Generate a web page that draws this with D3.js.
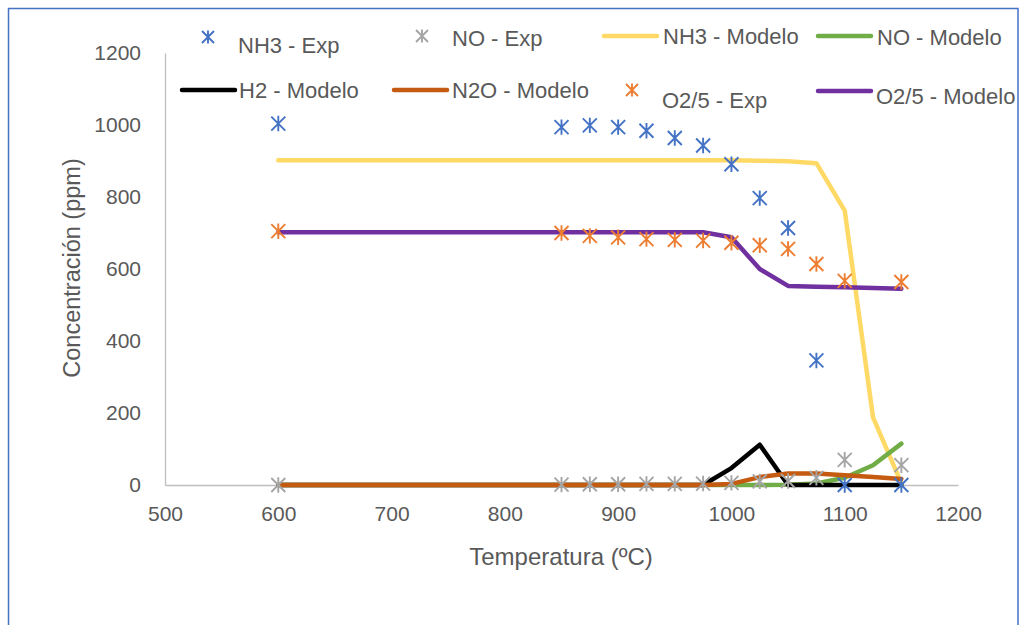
<!DOCTYPE html>
<html>
<head>
<meta charset="utf-8">
<script src="https://cdn.jsdelivr.net/npm/d3@7"></script>
<style>
  html, body { margin: 0; padding: 0; background: #ffffff; }
  svg { display: block; }
  text { font-family: "Liberation Sans", Arial, sans-serif; fill: #595959; }
</style>
</head>
<body>
<svg id="chart" width="1020" height="625"></svg>
<script>
// ---- Data ----
const expTemps   = [600, 850, 875, 900, 925, 950, 975, 1000, 1025, 1050, 1075, 1100, 1150];
const nh3Exp     = [1004, 994, 999, 994, 984, 964, 943, 891, 797, 714, 346, 0, 0];
const noExp      = [0, 1, 2, 2, 3, 3, 4, 6, 10, 11, 20, 70, 55];
const o2Exp      = [705, 700, 692, 688, 683, 681, 679, 673, 666, 656, 614, 567, 564];

const modelTemps = [600, 850, 875, 900, 925, 950, 975, 1000, 1025, 1050, 1075, 1100, 1125, 1150];
const nh3Model   = [902, 902, 902, 902, 902, 902, 902, 902, 901, 899, 894, 762, 188, 5];
const noModel    = [0, 0, 0, 0, 0, 0, 0, 0, 0, 1, 4, 20, 55, 115];
const h2Model    = [0, 0, 0, 0, 0, 0, 0, 47, 112, 0, 0, 0, 0, 0];
const n2oModel   = [0, 0, 0, 0, 0, 0, 0, 3, 22, 32, 32, 27, 22, 17];
const o2Model    = [702, 702, 702, 702, 702, 702, 702, 688, 600, 553, 551, 549, 547, 545];

const xTicks = [500, 600, 700, 800, 900, 1000, 1100, 1200];
const yTicks = [0, 200, 400, 600, 800, 1000, 1200];

const xTitle = "Temperatura (ºC)";
const yTitle = "Concentración (ppm)";

// ---- Series definitions ----
const lineSeries = [
  { name: "NH3 - Modelo", values: nh3Model, color: "#ffd966" },
  { name: "NO - Modelo",  values: noModel,  color: "#70ad47" },
  { name: "H2 - Modelo",  values: h2Model,  color: "#000000" },
  { name: "N2O - Modelo", values: n2oModel, color: "#c55a11" },
  { name: "O2/5 - Modelo",values: o2Model,  color: "#7030a0" }
];
const markerSeries = [
  { name: "NH3 - Exp",  values: nh3Exp, color: "#4472c4" },
  { name: "NO - Exp",   values: noExp,  color: "#a5a5a5" },
  { name: "O2/5 - Exp", values: o2Exp,  color: "#ed7d31" }
];

// ---- Layout ----
const svg = d3.select("#chart");
const x = d3.scaleLinear().domain([500, 1200]).range([165, 958]);
const y = d3.scaleLinear().domain([0, 1200]).range([485, 53]);

// outer border
svg.append("rect")
  .attr("x", 8.5).attr("y", 8.5).attr("width", 1009.5).attr("height", 700)
  .attr("fill", "none").attr("stroke", "#4472c4").attr("stroke-width", 1.5);

// axes
const xAxis = svg.append("g").attr("transform", `translate(0,${y(0)})`)
  .call(d3.axisBottom(x).tickValues(xTicks).tickSize(0).tickPadding(21).tickFormat(d3.format("d")));
const yAxis = svg.append("g").attr("transform", `translate(${x(500)},0)`)
  .call(d3.axisLeft(y).tickValues(yTicks).tickSize(0).tickPadding(24).tickFormat(d3.format("d")));
[xAxis, yAxis].forEach(g => {
  g.select(".domain").attr("stroke", "#bfbfbf").attr("stroke-width", 1.3);
  g.selectAll("text").style("font-size", "21px").attr("fill", "#595959")
   .style("font-family", '"Liberation Sans", Arial, sans-serif');
});
xAxis.selectAll("text").attr("dy", "0.71em");

// axis titles
svg.append("text").attr("x", 561).attr("y", 556)
  .attr("text-anchor", "middle").attr("dominant-baseline", "central")
  .style("font-size", "24px").text(xTitle);
svg.append("text")
  .attr("transform", "translate(72,268) rotate(-90)")
  .attr("text-anchor", "middle").attr("dominant-baseline", "central")
  .style("font-size", "23.5px").text(yTitle);

// lines
const line = d3.line().x((d, i) => x(modelTemps[i])).y(d => y(d));
svg.append("g").selectAll("path").data(lineSeries).join("path")
  .attr("d", s => line(s.values))
  .attr("fill", "none").attr("stroke", s => s.color)
  .attr("stroke-width", 4.5).attr("stroke-linecap", "round").attr("stroke-linejoin", "round");

// star marker path (X plus vertical bar)
function starPath(s) {
  const h = s / 2;
  return `M${-h},${-h}L${h},${h}M${-h},${h}L${h},${-h}M0,${-h*1.1}L0,${h*1.1}`;
}
markerSeries.forEach(s => {
  svg.append("g").selectAll("path").data(s.values).join("path")
    .attr("transform", (d, i) => `translate(${x(expTemps[i])},${y(d)})`)
    .attr("d", starPath(14))
    .attr("fill", "none").attr("stroke", s.color).attr("stroke-width", 1.9);
});

// ---- Legend ----
const legendItems = [
  { name: "NH3 - Exp",     type: "marker", color: "#4472c4", sx: 208, sy: 37, tx: 238, ty: 45 },
  { name: "NO - Exp",      type: "marker", color: "#a5a5a5", sx: 422, sy: 36, tx: 452, ty: 38 },
  { name: "NH3 - Modelo",  type: "line",   color: "#ffd966", sx: 604, sy: 36, tx: 663, ty: 36 },
  { name: "NO - Modelo",   type: "line",   color: "#70ad47", sx: 818, sy: 36, tx: 877, ty: 37 },
  { name: "H2 - Modelo",   type: "line",   color: "#000000", sx: 182, sy: 90, tx: 239, ty: 90 },
  { name: "N2O - Modelo",  type: "line",   color: "#c55a11", sx: 394, sy: 90, tx: 452, ty: 90 },
  { name: "O2/5 - Exp",    type: "marker", color: "#ed7d31", sx: 632, sy: 90, tx: 662, ty: 100 },
  { name: "O2/5 - Modelo", type: "line",   color: "#7030a0", sx: 818, sy: 91, tx: 876, ty: 96 }
];
const lg = svg.append("g");
legendItems.forEach(it => {
  if (it.type === "line") {
    lg.append("line").attr("x1", it.sx).attr("x2", it.sx + 53)
      .attr("y1", it.sy).attr("y2", it.sy)
      .attr("stroke", it.color).attr("stroke-width", 4.5).attr("stroke-linecap", "round");
  } else {
    lg.append("path").attr("transform", `translate(${it.sx},${it.sy})`)
      .attr("d", starPath(12)).attr("fill", "none")
      .attr("stroke", it.color).attr("stroke-width", 1.9);
  }
  lg.append("text").attr("x", it.tx).attr("y", it.ty)
    .attr("dominant-baseline", "central").style("font-size", "22px").text(it.name);
});
</script>
</body>
</html>
